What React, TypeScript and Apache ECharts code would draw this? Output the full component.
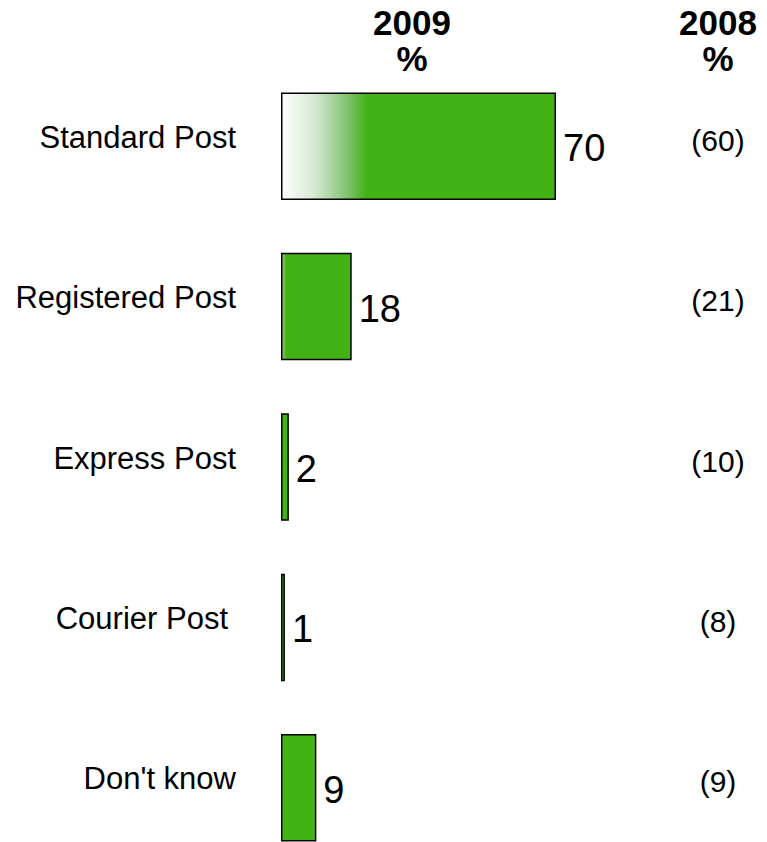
import React, { useEffect, useRef } from "react";
import * as echarts from "echarts";

const categories = ["Standard Post", "Registered Post", "Express Post", "Courier Post", "Don't know"];
const values2009 = [70, 18, 2, 1, 9];
const values2008 = [60, 21, 10, 8, 9];
const headers = ["2009\n%", "2008\n%"];

const GREEN = "#43b215";

export default function App() {
  const ref = useRef<HTMLDivElement>(null);
  useEffect(() => {
    document.body.style.margin = "0";
    const chart = echarts.init(ref.current!, null, { renderer: "svg" });
    const font = "'Liberation Sans', Arial, sans-serif";
    const barData = values2009.map((v, i) => {
      let color: any = GREEN;
      if (i === 0) {
        color = new echarts.graphic.LinearGradient(0, 0, 1, 0, [
          { offset: 0, color: "#ffffff" },
          { offset: 0.12, color: "#d6e9d2" },
          { offset: 0.24, color: "#80c371" },
          { offset: 0.31, color: GREEN },
          { offset: 1, color: GREEN },
        ]);
      } else if (i === 1) {
        color = new echarts.graphic.LinearGradient(0, 0, 1, 0, [
          { offset: 0, color: "#8cc87e" },
          { offset: 0.07, color: GREEN },
          { offset: 1, color: GREEN },
        ]);
      }
      return { value: v, itemStyle: { color } };
    });
    chart.setOption({
      animation: false,
      grid: { left: 281, top: 66, width: 275, height: 802 },
      xAxis: { type: "value", min: 0, max: 70, show: false },
      yAxis: [
        {
          type: "category",
          data: categories,
          inverse: true,
          position: "left",
          axisLine: { show: false },
          axisTick: { show: false },
          axisLabel: {
            margin: 45,
            fontSize: 31,
            color: "#000",
            fontFamily: font,
            formatter: (v: string) => (v === "Courier Post" ? "{c|" + v + "}" : "{n|" + v + "}"),
            rich: {
              n: { fontSize: 31, color: "#000", fontFamily: font, padding: [0, 0, 18, 0] },
              c: { fontSize: 31, color: "#000", fontFamily: font, padding: [0, 8, 18, 0] },
            },
          },
        },
        {
          type: "category",
          data: categories,
          inverse: true,
          position: "right",
          axisLine: { show: false },
          axisTick: { show: false },
          axisLabel: {
            margin: 162,
            align: "center",
            fontSize: 30,
            color: "#000",
            fontFamily: font,
            formatter: (_v: string, i: number) => "{n|(" + values2008[i] + ")}",
            rich: {
              n: { fontSize: 30, color: "#000", fontFamily: font, padding: [0, 0, 12, 0] },
            },
          },
        },
      ],
      series: [
        {
          type: "bar",
          yAxisIndex: 0,
          data: barData,
          barWidth: "67%",
          itemStyle: { borderColor: "#000", borderWidth: 1.5 },
          label: {
            show: true,
            position: "right",
            distance: 7,
            offset: [0, 2],
            fontSize: 38,
            color: "#000",
            fontFamily: font,
          },
        },
      ],
      graphic: [
        {
          type: "text",
          x: 412,
          y: 4,
          style: {
            text: headers[0],
            fill: "#000",
            font: "bold 35px " + font,
            textAlign: "center",
            textVerticalAlign: "top",
            lineHeight: 36,
          },
        },
        {
          type: "text",
          x: 718,
          y: 4,
          style: {
            text: headers[1],
            fill: "#000",
            font: "bold 35px " + font,
            textAlign: "center",
            textVerticalAlign: "top",
            lineHeight: 36,
          },
        },
      ],
    });
    return () => chart.dispose();
  }, []);
  return (
    <div style={{ width: 767, height: 842, overflow: "hidden" }}>
      <div ref={ref} style={{ width: 767, height: 900 }} />
    </div>
  );
}
